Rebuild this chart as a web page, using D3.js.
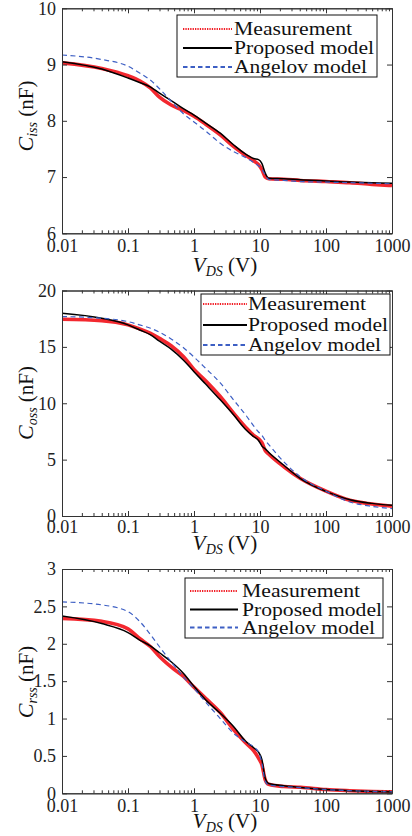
<!DOCTYPE html>
<html>
<head>
<meta charset="utf-8">
<script src="https://cdn.jsdelivr.net/npm/d3@7"></script>
<style>
  html, body { margin: 0; padding: 0; background: #fff; }
  svg, svg text { font-family: "Liberation Serif", Tinos, "Times New Roman", Times, serif; }
</style>
</head>
<body>
<svg id="chart" width="412" height="836"></svg>
<script>
// Drain-source voltage grid (V) shared by every curve
const vds = [0.01, 0.04, 0.1, 0.15, 0.22, 0.3, 0.45, 0.7, 1, 1.5, 2.5, 4, 6, 8, 9.5, 10.7, 12, 13.5, 23, 41, 100, 230, 500, 1000];

// Input capacitance Ciss (nF)
const cissMeasured = [9.03, 8.93, 8.80, 8.71, 8.58, 8.42, 8.28, 8.18, 8.08, 7.94, 7.75, 7.54, 7.39, 7.29, 7.22, 7.13, 7.00, 6.97, 6.96, 6.94, 6.92, 6.90, 6.87, 6.85];
const cissProposed = [9.05, 8.92, 8.76, 8.68, 8.60, 8.49, 8.36, 8.21, 8.10, 7.96, 7.78, 7.57, 7.41, 7.33, 7.31, 7.24, 7.07, 6.98, 6.97, 6.95, 6.93, 6.91, 6.90, 6.89];
const cissAngelov  = [9.17, 9.09, 8.97, 8.85, 8.72, 8.57, 8.35, 8.12, 7.98, 7.82, 7.60, 7.45, 7.35, 7.26, 7.20, 7.14, 7.04, 6.96, 6.94, 6.92, 6.91, 6.90, 6.89, 6.88];

// Output capacitance Coss (nF)
const cossMeasured = [17.45, 17.33, 16.95, 16.6, 16.2, 15.75, 15.1, 14.1, 13.0, 12.0, 10.6, 9.1, 7.9, 7.15, 6.85, 6.5, 5.8, 5.5, 4.36, 3.32, 2.2, 1.39, 1.06, 0.86];
const cossProposed = [17.98, 17.54, 16.95, 16.5, 16.06, 15.5, 14.8, 13.8, 12.8, 11.7, 10.3, 8.95, 7.7, 7.05, 6.7, 6.2, 5.95, 5.65, 4.5, 3.32, 2.18, 1.45, 1.12, 0.95];
const cossAngelov  = [17.69, 17.54, 17.24, 16.95, 16.65, 16.3, 15.7, 14.9, 14.1, 13.1, 11.8, 10.28, 9.0, 8.0, 7.45, 7.15, 6.7, 6.35, 4.8, 3.47, 2.2, 1.24, 0.85, 0.65];

// Reverse transfer capacitance Crss (nF)
const crssMeasured = [2.34, 2.30, 2.20, 2.07, 1.96, 1.83, 1.69, 1.56, 1.42, 1.27, 1.08, 0.85, 0.68, 0.57, 0.47, 0.38, 0.18, 0.12, 0.09, 0.08, 0.05, 0.035, 0.025, 0.02];
const crssProposed = [2.37, 2.27, 2.15, 2.05, 1.97, 1.88, 1.76, 1.60, 1.43, 1.25, 1.07, 0.89, 0.70, 0.61, 0.55, 0.45, 0.20, 0.13, 0.10, 0.076, 0.05, 0.035, 0.025, 0.018];
const crssAngelov  = [2.56, 2.52, 2.43, 2.30, 2.12, 1.96, 1.76, 1.55, 1.40, 1.22, 1.00, 0.80, 0.69, 0.62, 0.55, 0.40, 0.16, 0.11, 0.09, 0.076, 0.05, 0.035, 0.025, 0.02];

// Tick values and labels
const xTickValues = [0.01, 0.1, 1, 10, 100, 1000];
const xTickLabels = ["0.01", "0.1", "1", "10", "100", "1000"];
const cissTicks = [6, 7, 8, 9, 10];
const cossTicks = [0, 5, 10, 15, 20];
const crssTicks = [0, 0.5, 1, 1.5, 2, 2.5, 3];
const seriesNames = ["Measurement", "Proposed model", "Angelov model"];
const legendTextWidths = [118, 140, 133];

const FONT = "'Liberation Serif', Tinos, 'Times New Roman', Times, serif";
const svg = d3.select("#chart").attr("font-family", FONT);
const plotLeft = 62, plotRight = 392;

const styles = [
  { stroke: "#f21c24", width: 3.6, dash: null, opacity: 0.95, legendDash: "1.3,1.1", legendWidth: 2 },
  { stroke: "#000000", width: 1.5, dash: null, opacity: 1, legendDash: null, legendWidth: 2.2 },
  { stroke: "#3d5fc4", width: 1.2, dash: "5,3.5", opacity: 1, legendDash: "4.5,3", legendWidth: 2 }
];

const panels = [
  { top: 8.3, bottom: 233.3, domain: [6, 10], ticks: cissTicks, sub: "iss", titleCy: 116,
    series: [cissMeasured, cissProposed, cissAngelov],
    legend: { x0: 177, x1: 377, y0: 15, y1: 77, rows: [14, 33, 52], lx0: 183, lx1: 232, tx: 234 },
    tickBase: 18.5, titleBase: 38.5 },
  { top: 290.5, bottom: 516, domain: [0, 20], ticks: cossTicks, sub: "oss", titleCy: 403,
    series: [cossMeasured, cossProposed, cossAngelov],
    legend: { x0: 201, x1: 390, y0: 294, y1: 355, rows: [10, 31, 51], lx0: 203, lx1: 247, tx: 248 },
    tickBase: 17, titleBase: 34 },
  { top: 569, bottom: 793.3, domain: [0, 3], ticks: crssTicks, sub: "rss", titleCy: 682,
    series: [crssMeasured, crssProposed, crssAngelov],
    legend: { x0: 185, x1: 383, y0: 578, y1: 638, rows: [13, 31.5, 49.5], lx0: 190, lx1: 238, tx: 242 },
    tickBase: 18.5, titleBase: 35 }
];

const x = d3.scaleLog().domain([0.01, 1000]).range([plotLeft, plotRight]);
const minorTicks = [];
[0.01, 0.1, 1, 10, 100].forEach(d => { for (let k = 2; k <= 9; k++) minorTicks.push(d * k); });

const axisColor = "#333";

panels.forEach((p, i) => {
  const y = d3.scaleLinear().domain(p.domain).range([p.bottom, p.top]);
  const g = svg.append("g");

  const clipId = "clip" + i;
  svg.append("clipPath").attr("id", clipId)
    .append("rect").attr("x", plotLeft).attr("y", p.top)
    .attr("width", plotRight - plotLeft).attr("height", p.bottom - p.top);

  // Curves
  const line = d3.line()
    .x((d, j) => x(vds[j]))
    .y(d => y(d))
    .curve(d3.curveMonotoneX);
  const curves = g.append("g").attr("clip-path", `url(#${clipId})`);
  p.series.forEach((vals, k) => {
    const s = styles[k];
    curves.append("path")
      .datum(vals)
      .attr("d", line)
      .attr("fill", "none")
      .attr("stroke", s.stroke)
      .attr("stroke-width", s.width)
      .attr("stroke-opacity", s.opacity)
      .attr("stroke-linejoin", "round")
      .attr("stroke-dasharray", s.dash);
  });

  // Axes (ticks pointing inward, box on all four sides)
  const styleAxis = sel => {
    sel.attr("font-family", FONT).attr("font-size", 18);
    sel.selectAll("path.domain").attr("stroke", axisColor).attr("stroke-width", 1);
    sel.selectAll(".tick line").attr("stroke", axisColor).attr("stroke-width", 1);
    sel.selectAll(".tick text").attr("fill", "#222");
  };

  const bottomAxis = d3.axisBottom(x).tickValues(xTickValues)
    .tickFormat((d, j) => xTickLabels[j]).tickSize(-5).tickSizeOuter(0).tickPadding(p.tickBase - 12.8);
  g.append("g").attr("transform", `translate(0,${p.bottom})`).call(bottomAxis).call(styleAxis);
  g.append("g").attr("transform", `translate(0,${p.bottom})`)
    .call(d3.axisBottom(x).tickValues(minorTicks).tickFormat("").tickSize(-3).tickSizeOuter(0))
    .call(styleAxis);

  g.append("g").attr("transform", `translate(0,${p.top})`)
    .call(d3.axisTop(x).tickValues(xTickValues).tickFormat("").tickSize(-5).tickSizeOuter(0))
    .call(styleAxis);
  g.append("g").attr("transform", `translate(0,${p.top})`)
    .call(d3.axisTop(x).tickValues(minorTicks).tickFormat("").tickSize(-3).tickSizeOuter(0))
    .call(styleAxis);

  g.append("g").attr("transform", `translate(${plotLeft},0)`)
    .call(d3.axisLeft(y).tickValues(p.ticks).tickFormat(d3.format("")).tickSize(-5).tickSizeOuter(0).tickPadding(6))
    .call(styleAxis);
  g.append("g").attr("transform", `translate(${plotRight},0)`)
    .call(d3.axisRight(y).tickValues(p.ticks).tickFormat("").tickSize(-5).tickSizeOuter(0))
    .call(styleAxis);

  // Legend
  const L = p.legend;
  const lg = g.append("g");
  lg.append("rect").attr("x", L.x0).attr("y", L.y0)
    .attr("width", L.x1 - L.x0).attr("height", L.y1 - L.y0)
    .attr("fill", "#fff").attr("stroke", "#111").attr("stroke-width", 1);
  seriesNames.forEach((name, k) => {
    const cy = L.y0 + L.rows[k];
    const s = styles[k];
    lg.append("line").attr("x1", L.lx0).attr("x2", L.lx1).attr("y1", cy).attr("y2", cy)
      .attr("stroke", s.stroke).attr("stroke-width", s.legendWidth)
      .attr("stroke-dasharray", s.legendDash);
    lg.append("text").attr("x", L.tx).attr("y", cy + 6)
      .attr("font-family", FONT).attr("font-size", 18.5).attr("fill", "#111")
      .attr("textLength", legendTextWidths[k]).attr("lengthAdjust", "spacingAndGlyphs")
      .text(name);
  });

  // X axis title: V_DS (V)
  const xt = g.append("text").attr("x", (plotLeft + plotRight) / 2 - 2).attr("y", p.bottom + p.titleBase)
    .attr("text-anchor", "middle").attr("fill", "#111").attr("font-family", FONT);
  xt.append("tspan").attr("font-style", "italic").attr("font-size", 21).text("V");
  xt.append("tspan").attr("font-style", "italic").attr("font-size", 14).attr("dy", 4).text("DS");
  xt.append("tspan").attr("font-size", 21).attr("dy", -4).text(" (V)");

  // Y axis title: C_xss (nF)
  const yt = g.append("text").attr("transform", `translate(33,${p.titleCy}) rotate(-90)`)
    .attr("text-anchor", "middle").attr("fill", "#111").attr("font-family", FONT);
  yt.append("tspan").attr("font-style", "italic").attr("font-size", 22).text("C");
  yt.append("tspan").attr("font-style", "italic").attr("font-size", 14).attr("dy", 4).text(p.sub);
  yt.append("tspan").attr("font-size", 21).attr("dy", -4).text(" (nF)");
});
</script>
</body>
</html>
